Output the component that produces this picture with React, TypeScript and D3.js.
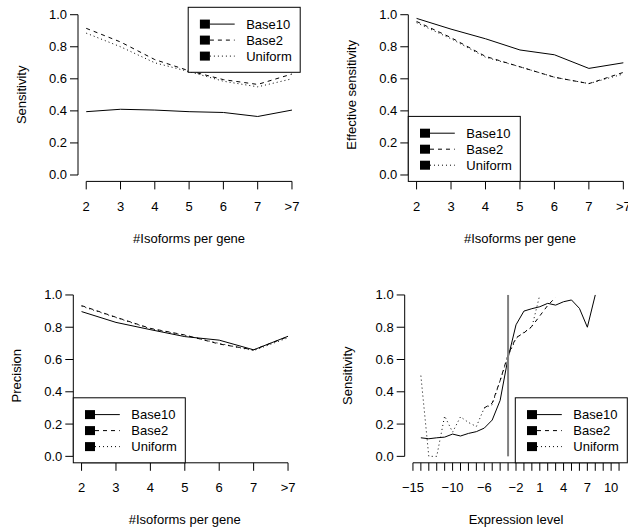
import React, { useEffect, useRef } from 'react';
import * as d3 from 'd3';

// isoform panels
const isoformCategories = ['2', '3', '4', '5', '6', '7', '>7'];
const sensitivityBase10 = [0.395, 0.41, 0.405, 0.395, 0.39, 0.365, 0.405];
const sensitivityBase2 = [0.915, 0.83, 0.72, 0.65, 0.595, 0.565, 0.63];
const sensitivityUniform = [0.885, 0.8, 0.7, 0.645, 0.585, 0.55, 0.6];
const effectiveBase10 = [0.977, 0.91, 0.85, 0.78, 0.75, 0.665, 0.7];
const effectiveBase2 = [0.958, 0.857, 0.74, 0.675, 0.61, 0.57, 0.64];
const effectiveUniform = [0.95, 0.85, 0.735, 0.675, 0.61, 0.57, 0.63];
const precisionBase10 = [0.897, 0.83, 0.785, 0.742, 0.72, 0.66, 0.744];
const precisionBase2 = [0.934, 0.862, 0.793, 0.752, 0.696, 0.66, 0.742];
const precisionUniform = [0.93, 0.86, 0.79, 0.75, 0.7, 0.655, 0.735];

// expression level panel
const exprLevels = [-14, -13, -12, -11, -10, -9, -8, -7, -6, -5, -4, -3, -2, -1, 0, 1, 2, 3, 4, 5, 6, 7, 8];
const exprBase10 = [0.115, 0.109, 0.115, 0.119, 0.138, 0.126, 0.142, 0.153, 0.175, 0.225, 0.347, 0.61,
  0.815, 0.9, 0.915, 0.927, 0.948, 0.937, 0.958, 0.969, 0.917, 0.8, 1.0];
const exprBase2Levels = [-6, -5, -4, -3, -2, -1, 0, 1, 2, 3];
const exprBase2 = [0.3, 0.33, 0.47, 0.63, 0.735, 0.765, 0.805, 0.87, 0.935, 0.985];
const exprUniformLevels = [-14, -13, -12, -11, -10, -9, -8, -7, -6, -5, -4, -3, -2, -1, 0, 1];
const exprUniform = [0.5, 0.0, 0.0, 0.25, 0.15, 0.245, 0.21, 0.185, 0.3, 0.32, 0.47, 0.62, 0.73, 0.77, 0.8, 1.0];
const exprTicks = [-15, -14, -13, -12, -11, -10, -9, -8, -7, -6, -5, -4, -3, -2, -1, 0, 1, 2, 3, 4, 5, 6, 7, 8, 9, 10, 11];
const exprTickLabels = [-15, -10, -6, -2, 1, 4, 7, 10];
const cutoffLevel = -3;

const yTicks = [0, 0.2, 0.4, 0.6, 0.8, 1.0];
const seriesNames = ['Base10', 'Base2', 'Uniform'];
const seriesDash = [null, '4,4', '1,3'];

const FONT = '"Liberation Sans", Arial, Helvetica, sans-serif';

const App = () => {
  const svgRef = useRef(null);

  useEffect(() => {
    const svg = d3.select(svgRef.current);
    svg.selectAll('*').remove();

    const drawFrame = (p, xScale, ticks, tickLabels, fmt) => {
      const y = d3.scaleLinear().domain([-0.04, 1.04]).range([p.bottom, p.top]);
      const g = svg.append('g');

      // y axis
      g.append('line').attr('x1', p.left).attr('x2', p.left).attr('y1', y(0)).attr('y2', y(1))
        .attr('stroke', '#000');
      yTicks.forEach((t) => {
        g.append('line').attr('x1', p.left - 8).attr('x2', p.left).attr('y1', y(t)).attr('y2', y(t))
          .attr('stroke', '#000');
        g.append('text').attr('x', p.left - 11).attr('y', y(t)).attr('text-anchor', 'end')
          .attr('dominant-baseline', 'central').text(d3.format('.1f')(t));
      });

      // x axis
      g.append('line').attr('x1', xScale(ticks[0])).attr('x2', xScale(ticks[ticks.length - 1]))
        .attr('y1', p.bottom).attr('y2', p.bottom).attr('stroke', '#000');
      ticks.forEach((t) => {
        g.append('line').attr('x1', xScale(t)).attr('x2', xScale(t)).attr('y1', p.bottom)
          .attr('y2', p.bottom + 8).attr('stroke', '#000');
      });
      tickLabels.forEach((t) => {
        g.append('text').attr('x', xScale(t)).attr('y', p.bottom + 25).attr('text-anchor', 'middle')
          .attr('dominant-baseline', 'central').text(fmt(t));
      });

      // titles
      g.append('text').attr('x', (p.left + p.right) / 2).attr('y', p.bottom + 57)
        .attr('text-anchor', 'middle').attr('dominant-baseline', 'central').text(p.xTitle);
      g.append('text')
        .attr('transform', `translate(${p.left - 57},${(p.top + p.bottom) / 2}) rotate(-90)`)
        .attr('text-anchor', 'middle').attr('dominant-baseline', 'central').text(p.yTitle);
      return { g, y };
    };

    const drawSeries = (g, xScale, y, xs, ys, i) => {
      const line = d3.line().x((d) => xScale(d[0])).y((d) => y(d[1]));
      g.append('path').datum(xs.map((x, k) => [x, ys[k]])).attr('d', line).attr('fill', 'none')
        .attr('stroke', '#000').attr('stroke-width', 1)
        .attr('stroke-dasharray', seriesDash[i]);
    };

    const drawLegend = (g, p) => {
      const w = 112;
      const h = 65;
      const lx = p.legend === 'bottomright' ? p.right - w : p.legend === 'topright' ? p.right - w : p.left;
      const ly = p.legend === 'topright' ? p.top - 1 : p.bottom - h;
      const box = g.append('g').attr('transform', `translate(${lx},${ly})`);
      box.append('rect').attr('width', w).attr('height', h).attr('fill', '#fff').attr('stroke', '#000');
      seriesNames.forEach((name, i) => {
        const cy = 16.8 + i * 16;
        box.append('rect').attr('x', 11.7).attr('y', cy - 4.5).attr('width', 10).attr('height', 9)
          .attr('fill', '#000');
        box.append('line').attr('x1', 21.7).attr('x2', 46.5).attr('y1', cy).attr('y2', cy)
          .attr('stroke', '#000').attr('stroke-dasharray', seriesDash[i]);
        box.append('text').attr('x', 58).attr('y', cy).attr('dominant-baseline', 'central').text(name);
      });
    };

    const isoPanels = [
      { left: 78, right: 300.2, top: 8.3, bottom: 181.4, yTitle: 'Sensitivity', xTitle: '#Isoforms per gene',
        legend: 'topright', data: [sensitivityBase10, sensitivityBase2, sensitivityUniform] },
      { left: 408.3, right: 631.6, top: 8.3, bottom: 181.4, yTitle: 'Effective sensitivity',
        xTitle: '#Isoforms per gene', legend: 'bottomleft', data: [effectiveBase10, effectiveBase2, effectiveUniform] },
      { left: 73.3, right: 296.3, top: 288.5, bottom: 462.8, yTitle: 'Precision', xTitle: '#Isoforms per gene',
        legend: 'bottomleft', data: [precisionBase10, precisionBase2, precisionUniform] },
    ];

    isoPanels.forEach((p) => {
      const x = d3.scalePoint().domain(isoformCategories).range([p.left, p.right]).padding(0.24);
      const { g, y } = drawFrame(p, x, isoformCategories, isoformCategories, (d) => d);
      p.data.forEach((vals, i) => drawSeries(g, x, y, isoformCategories, vals, i));
      drawLegend(g, p);
    });

    // expression panel
    const pe = { left: 404.7, right: 627.3, top: 288.5, bottom: 462.8, yTitle: 'Sensitivity',
      xTitle: 'Expression level', legend: 'bottomright' };
    const ext = (exprTicks[exprTicks.length - 1] - exprTicks[0]) * 0.04;
    const xe = d3.scaleLinear().domain([exprTicks[0] - ext, exprTicks[exprTicks.length - 1] + ext])
      .range([pe.left, pe.right]);
    const { g, y } = drawFrame(pe, xe, exprTicks, exprTickLabels, (d) => String(d).replace('-', '\u2212'));
    drawSeries(g, xe, y, exprUniformLevels, exprUniform, 2);
    drawSeries(g, xe, y, exprBase2Levels, exprBase2, 1);
    drawSeries(g, xe, y, exprLevels, exprBase10, 0);
    g.append('line').attr('x1', xe(cutoffLevel)).attr('x2', xe(cutoffLevel)).attr('y1', y(0)).attr('y2', y(1))
      .attr('stroke', '#808080').attr('stroke-width', 2);
    drawLegend(g, pe);
  }, []);

  return (
    <svg ref={svgRef} width={628} height={529}
      style={{ position: 'absolute', left: 0, top: 0, background: '#fff', fontFamily: FONT, fontSize: 13 }} />
  );
};

export default App;
